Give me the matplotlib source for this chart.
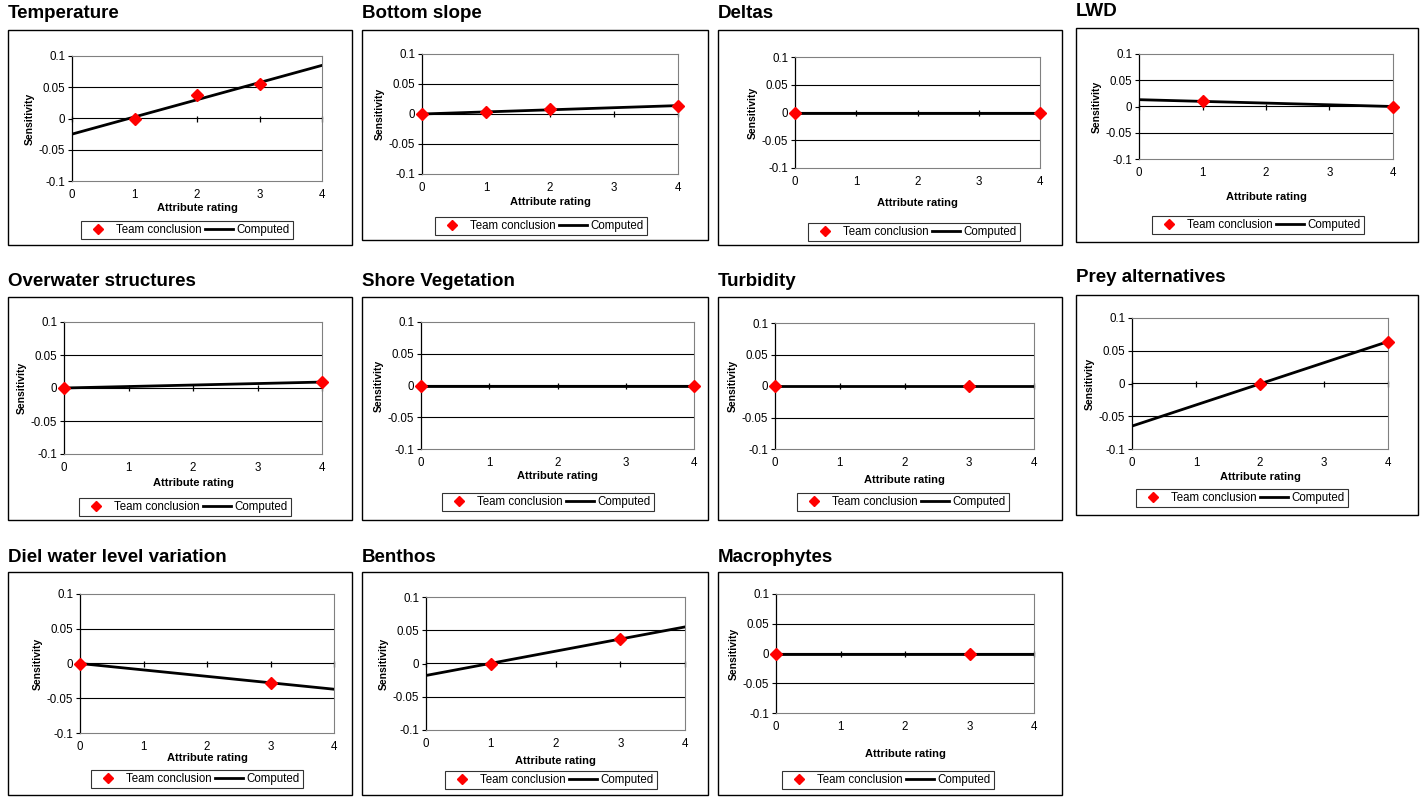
import matplotlib
matplotlib.use('Agg')
import matplotlib.pyplot as plt
from matplotlib.patches import Rectangle
from matplotlib.lines import Line2D

plt.rcParams['font.family'] = ['Liberation Sans', 'DejaVu Sans']

# panel data
titles = ['Temperature', 'Bottom slope', 'Deltas', 'LWD',
          'Overwater structures', 'Shore Vegetation', 'Turbidity', 'Prey alternatives',
          'Diel water level variation', 'Benthos', 'Macrophytes']

team_x = [[1, 2, 3], [0, 1, 2, 4], [0, 4], [1, 4],
          [0, 4], [0, 4], [0, 3], [2, 4],
          [0, 3], [1, 3], [0, 3]]
team_y = [[0.0, 0.037, 0.055], [0.0, 0.004, 0.009, 0.013], [0.0, 0.0], [0.010, 0.0],
          [0.0, 0.009], [0.0, 0.0], [0.0, 0.0], [0.0, 0.064],
          [0.0, -0.028], [0.0, 0.037], [0.0, 0.0]]

comp_x = [0, 4]
comp_y = [[-0.025, 0.085], [0.0, 0.014], [0.0, 0.0], [0.013, 0.0],
          [0.0, 0.009], [0.0, 0.0], [0.0, 0.0], [-0.065, 0.064],
          [0.0, -0.037], [-0.018, 0.055], [0.0, 0.0]]

x_ticks = [0, 1, 2, 3, 4]
y_ticks = [-0.1, -0.05, 0, 0.05, 0.1]
y_labels = ['-0.1', '-0.05', '0', '0.05', '0.1']

# layout in pixels: outer box, plot area, legend centre, title position
boxes = [(8, 30, 352, 245), (362, 30, 708, 240), (718, 30, 1062, 245), (1076, 28, 1418, 242),
         (8, 297, 352, 520), (362, 297, 708, 520), (718, 297, 1062, 520), (1076, 295, 1418, 515),
         (8, 572, 352, 795), (362, 572, 708, 795), (718, 572, 1062, 795)]
plots = [(72, 56, 322, 181), (422, 54, 678, 174), (795, 57, 1040, 168), (1139, 54, 1393, 159),
         (64, 322, 322, 454), (421, 322, 694, 449), (775, 323, 1034, 449), (1132, 318, 1388, 449),
         (80, 594, 334, 733), (426, 597, 685, 730), (776, 594, 1034, 713)]
legends = [(187, 230), (541, 226), (914, 232), (1258, 225),
           (185, 507), (548, 502), (903, 502), (1242, 498),
           (197, 779), (551, 780), (888, 780)]
title_pos = [(8, 14), (362, 14), (718, 14), (1076, 12),
             (8, 281), (362, 281), (718, 281), (1076, 277),
             (8, 557), (362, 557), (718, 557)]
xlabel_pad = [1, 2, 7, 9, 3, 1, 4, 2, 0, 4, 11]

W, H = 1424, 797
fig = plt.figure(figsize=(W / 100, H / 100), dpi=100)


def fx(px):
    return px / W


def fy(py):
    return 1 - py / H


for i, title in enumerate(titles):
    bx0, by0, bx1, by1 = boxes[i]
    fig.patches.append(Rectangle((fx(bx0), fy(by1)), fx(bx1 - bx0), (by1 - by0) / H,
                                 transform=fig.transFigure, fill=False,
                                 edgecolor='black', linewidth=1.0))
    tx, ty = title_pos[i]
    fig.text(fx(tx), fy(ty), title, fontsize=13.5, fontweight='bold',
             ha='left', va='center')

    px0, py0, px1, py1 = plots[i]
    ax = fig.add_axes([fx(px0), fy(py1), fx(px1 - px0), (py1 - py0) / H])
    ax.set_xlim(0, 4)
    ax.set_ylim(-0.1, 0.1)
    for s in ['top', 'right', 'bottom']:
        ax.spines[s].set_color('#808080')
        ax.spines[s].set_linewidth(0.8)
    ax.spines['left'].set_color('black')
    ax.spines['left'].set_linewidth(0.9)
    for g in [-0.05, 0.05]:
        ax.axhline(g, color='black', linewidth=0.8, zorder=1)

    ax.set_xticks(x_ticks)
    ax.tick_params(axis='x', length=0, labelsize=8.3, pad=6)
    ax.set_yticks(y_ticks)
    ax.set_yticklabels(y_labels)
    ax.tick_params(axis='y', length=3, width=0.8, direction='out', labelsize=8.3, pad=2)

    # x axis crossing at zero with its tick marks
    sec = ax.secondary_xaxis(0.5)
    sec.set_xticks(x_ticks)
    sec.tick_params(length=5, width=0.9, direction='inout', labelbottom=False,
                    labeltop=False, color='black')
    sec.spines['bottom'].set_color('black')
    sec.spines['top'].set_color('black')
    sec.spines['bottom'].set_linewidth(0.9)
    sec.tick_params(axis='x', which='both', bottom=True, top=False)

    ax.plot(comp_x, comp_y[i], color='black', linewidth=2.0, zorder=3)
    ax.plot(team_x[i], team_y[i], linestyle='none', marker='D', markersize=6,
            color='#ff0000', markeredgecolor='#ff0000', zorder=4, clip_on=False)

    ax.set_xlabel('Attribute rating', fontsize=8, fontweight='bold', labelpad=xlabel_pad[i])
    ax.set_ylabel('Sensitivity', fontsize=7.5, fontweight='bold', labelpad=3)

    handles = [Line2D([], [], linestyle='none', marker='D', markersize=5.5, color='#ff0000'),
               Line2D([], [], color='black', linewidth=2.0)]
    lx, ly = legends[i]
    leg = fig.legend(handles, ['Team conclusion', 'Computed'], loc='center',
                     bbox_to_anchor=(fx(lx), fy(ly)), bbox_transform=fig.transFigure,
                     ncol=2, fontsize=8.3, frameon=True, fancybox=False,
                     edgecolor='black', borderpad=0.25, handlelength=2.4,
                     handletextpad=0.35, columnspacing=0.3, borderaxespad=0)
    leg.get_frame().set_linewidth(0.8)

fig.savefig('out.png', dpi=100, facecolor='white')
